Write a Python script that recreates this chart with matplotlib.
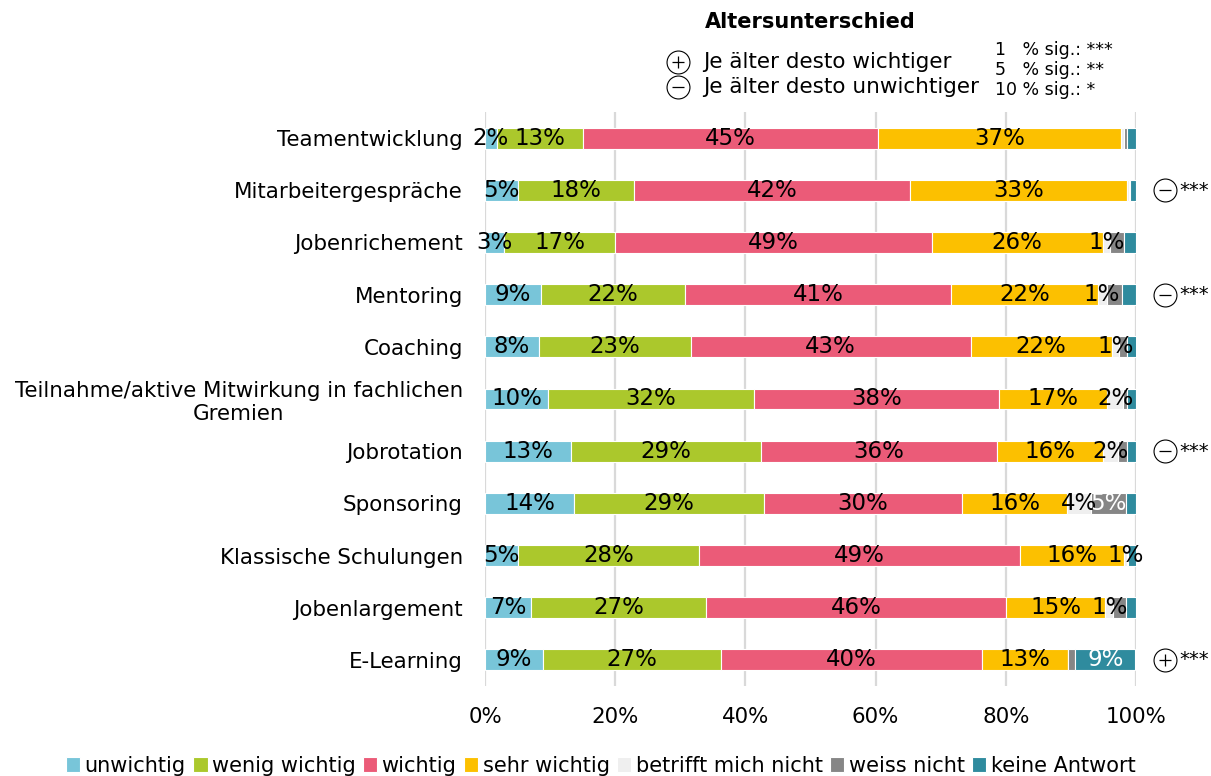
import numpy as np
import matplotlib.pyplot as plt

# rows of the chart, top to bottom
categories = ["Teamentwicklung", "Mitarbeitergespräche", "Jobenrichement", "Mentoring",
              "Coaching", "Teilnahme/aktive Mitwirkung in fachlichen\nGremien", "Jobrotation",
              "Sponsoring", "Klassische Schulungen", "Jobenlargement", "E-Learning"]

# shares in percent
unwichtig = [1.8, 5.1, 2.9, 8.6, 8.3, 9.7, 13.2, 13.7, 5.1, 7.1, 8.9]
wenig_wichtig = [13.2, 17.8, 17.1, 22.1, 23.3, 31.6, 29.2, 29.2, 27.7, 26.9, 27.4]
wichtig = [45.4, 42.4, 48.6, 40.9, 43.0, 37.6, 36.3, 30.4, 49.4, 46.1, 40.0]
sehr_wichtig = [37.3, 33.4, 26.3, 22.5, 21.7, 16.7, 16.2, 16.1, 15.9, 15.2, 13.2]
betrifft_nicht = [0.4, 0.2, 1.1, 1.4, 1.1, 2.4, 2.4, 3.7, 0.6, 1.2, 0.1]
weiss_nicht = [0.5, 0.2, 2.2, 2.3, 1.3, 0.6, 1.3, 5.4, 0.1, 2.0, 1.1]
keine_antwort = [1.4, 0.9, 1.8, 2.2, 1.4, 1.4, 1.4, 1.5, 1.3, 1.5, 9.2]

series_names = ["unwichtig", "wenig wichtig", "wichtig", "sehr wichtig",
                "betrifft mich nicht", "weiss nicht", "keine Antwort"]
colors = ["#78c5d9", "#abc82c", "#eb5b78", "#fcc000", "#efefef", "#868686", "#2f8b9e"]
label_colors = ["black", "black", "black", "black", "black", "white", "white"]

# age effect: row -> sign, significance
age_signs = {1: ("-", "***"), 3: ("-", "***"), 6: ("-", "***"), 10: ("+", "***")}

x_ticks = [0, 20, 40, 60, 80, 100]
x_tick_labels = ["0%", "20%", "40%", "60%", "80%", "100%"]

plt.rcParams['font.family'] = ['DejaVu Sans']

fig = plt.figure(figsize=(12.11, 7.76), dpi=100)
ax = fig.add_axes([0.4005, 0.116, 0.5375, 0.7397])

series = [unwichtig, wenig_wichtig, wichtig, sehr_wichtig, betrifft_nicht, weiss_nicht, keine_antwort]
y = np.arange(len(categories))
left = np.zeros(len(categories))

for i, vals in enumerate(series):
    vals = np.array(vals)
    ax.barh(y, vals, left=left, height=0.4, color=colors[i], edgecolor="white",
            linewidth=0.8, label=series_names[i], zorder=2)
    for j in range(len(vals)):
        v = vals[j]
        show = (i < 5 and round(v) >= 1) or (i >= 5 and v >= 4)
        if show:
            ax.text(left[j] + v / 2, y[j], "%d%%" % round(v), ha="center", va="center",
                    fontsize=16.5, color=label_colors[i], zorder=3)
    left = left + vals


def sign_circle(x, yy, sign, transform):
    ax.plot(x, yy, marker="o", ms=16.5, mfc="white", mec="black", mew=0.8,
            transform=transform, clip_on=False, zorder=4)
    ax.plot(x, yy, marker="+" if sign == "+" else "_", ms=8, mec="black", mew=0.9,
            transform=transform, clip_on=False, zorder=5)


for row, (sign, stars) in age_signs.items():
    sign_circle(104.5, row, sign, ax.transData)
    ax.text(106.6, row, stars, ha="left", va="center", fontsize=14, clip_on=False)

ax.set_xlim(0, 100)
ax.set_ylim(len(categories) - 0.5, -0.5)
ax.set_yticks(y)
ax.set_yticklabels(categories, fontsize=15.4)
for lab in ax.get_yticklabels():
    lab.set_multialignment("center")
ax.set_xticks(x_ticks)
ax.set_xticklabels(x_tick_labels, fontsize=15.4)
ax.tick_params(axis="both", length=0)
ax.tick_params(axis="y", pad=16)
ax.tick_params(axis="x", pad=15)
ax.grid(axis="x", color="#d9d9d9", linewidth=1.6, zorder=0)
ax.set_axisbelow(True)
for s in ax.spines.values():
    s.set_visible(False)

# top legend for age difference
fig.text(0.582, 0.9716, "Altersunterschied", fontsize=15, fontweight="bold", ha="left", va="center")
sign_circle(0.560, 0.920, "+", fig.transFigure)
sign_circle(0.560, 0.888, "-", fig.transFigure)
fig.text(0.5805, 0.920, "Je älter desto wichtiger", fontsize=15.5, ha="left", va="center")
fig.text(0.5805, 0.888, "Je älter desto unwichtiger", fontsize=15.5, ha="left", va="center")
fig.text(0.8217, 0.9356, "1   % sig.: ***", fontsize=12.5, ha="left", va="center")
fig.text(0.8217, 0.9098, "5   % sig.: **", fontsize=12.5, ha="left", va="center")
fig.text(0.8217, 0.884, "10 % sig.: *", fontsize=12.5, ha="left", va="center")

fig.legend(loc="center", bbox_to_anchor=(0.496, 0.013), ncol=7, frameon=False, fontsize=15,
           handlelength=0.7, handleheight=0.7, handletextpad=0.2, columnspacing=0.35,
           borderaxespad=0)

fig.savefig("out.png", dpi=100)
